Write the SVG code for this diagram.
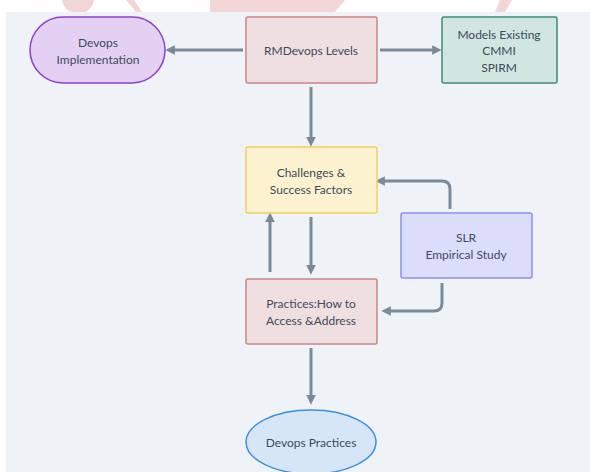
<svg xmlns="http://www.w3.org/2000/svg" width="590" height="472" viewBox="0 0 590 472">
<style>
text{font-family:Lato,"Liberation Sans",sans-serif;font-size:12px;fill:#3e4a5a;text-anchor:middle}
.c{fill:none;stroke:#7b8a99;stroke-width:3;marker-end:url(#ah)}
.wm{fill:#f2d6d6}
</style>
<defs>
<marker id="ah" viewBox="0 0 10 10" refX="3" refY="5" markerWidth="3.2" markerHeight="3.2" orient="auto" markerUnits="strokeWidth">
<path d="M0,0 L10,5 L0,10 z" fill="#7b8a99"/>
</marker>
</defs>
<rect width="590" height="472" fill="#ffffff"/>
<g id="watermark">
<circle cx="78" cy="-2" r="16" class="wm"/>
<path d="M126,0 L134,0 L142,12 L136,12 z" class="wm"/>
<rect x="210" y="0" width="90" height="12" class="wm"/>
<path d="M300,0 L345,0 L335,12 L300,12 z" class="wm"/>
<path d="M500,0 L512,0 L505,12 L495,12 z" class="wm"/>
</g>
<rect x="6" y="12" width="584" height="460" fill="#eff3f7"/>
<g id="connectors">
<path class="c" d="M243,50 H172"/>
<path class="c" d="M380,50 H435"/>
<path class="c" d="M311,87 V140"/>
<path class="c" d="M270,272 V219"/>
<path class="c" d="M311,217 V268"/>
<path class="c" d="M450,209 V189 Q450,181 442,181 H382"/>
<path class="c" d="M442,283 V303 Q442,311 434,311 H388"/>
<path class="c" d="M311,348 V398"/>
</g>
<g id="devops-implementation">
<rect x="30" y="17" width="135" height="66" rx="33" fill="#e4d0f3" stroke="#8c3fd0" stroke-width="1.5"/>
<text x="98" y="47">Devops</text>
<text x="98" y="64">Implementation</text>
</g>
<g id="rmdevops-levels">
<rect x="246" y="17" width="131" height="66" rx="2" fill="#f0dfe0" stroke="#c98585" stroke-width="1.5"/>
<text x="311" y="55">RMDevops Levels</text>
</g>
<g id="models-existing">
<rect x="442" y="17" width="115" height="66" rx="2" fill="#d1e5e1" stroke="#3d8c77" stroke-width="1.5"/>
<text x="499" y="39">Models Existing</text>
<text x="499" y="55">CMMI</text>
<text x="499" y="72">SPIRM</text>
</g>
<g id="challenges">
<rect x="246" y="147" width="131" height="66" rx="2" fill="#fdf2d0" stroke="#f1cf5c" stroke-width="1.5"/>
<text x="311" y="177">Challenges &amp;</text>
<text x="311" y="194">Success Factors</text>
</g>
<g id="slr">
<rect x="401" y="213" width="131" height="65" rx="2" fill="#dcdcfb" stroke="#8f8ff2" stroke-width="1.5"/>
<text x="466" y="242">SLR</text>
<text x="466" y="259">Empirical Study</text>
</g>
<g id="practices">
<rect x="246" y="279" width="131" height="65" rx="2" fill="#f0dfe0" stroke="#c98585" stroke-width="1.5"/>
<text x="311" y="308">Practices:How to</text>
<text x="311" y="325">Access &amp;Address</text>
</g>
<g id="devops-practices">
<ellipse cx="311" cy="442" rx="65" ry="32" fill="#d6e6f7" stroke="#3b8fe0" stroke-width="1.5"/>
<text x="311" y="447">Devops Practices</text>
</g>
</svg>
